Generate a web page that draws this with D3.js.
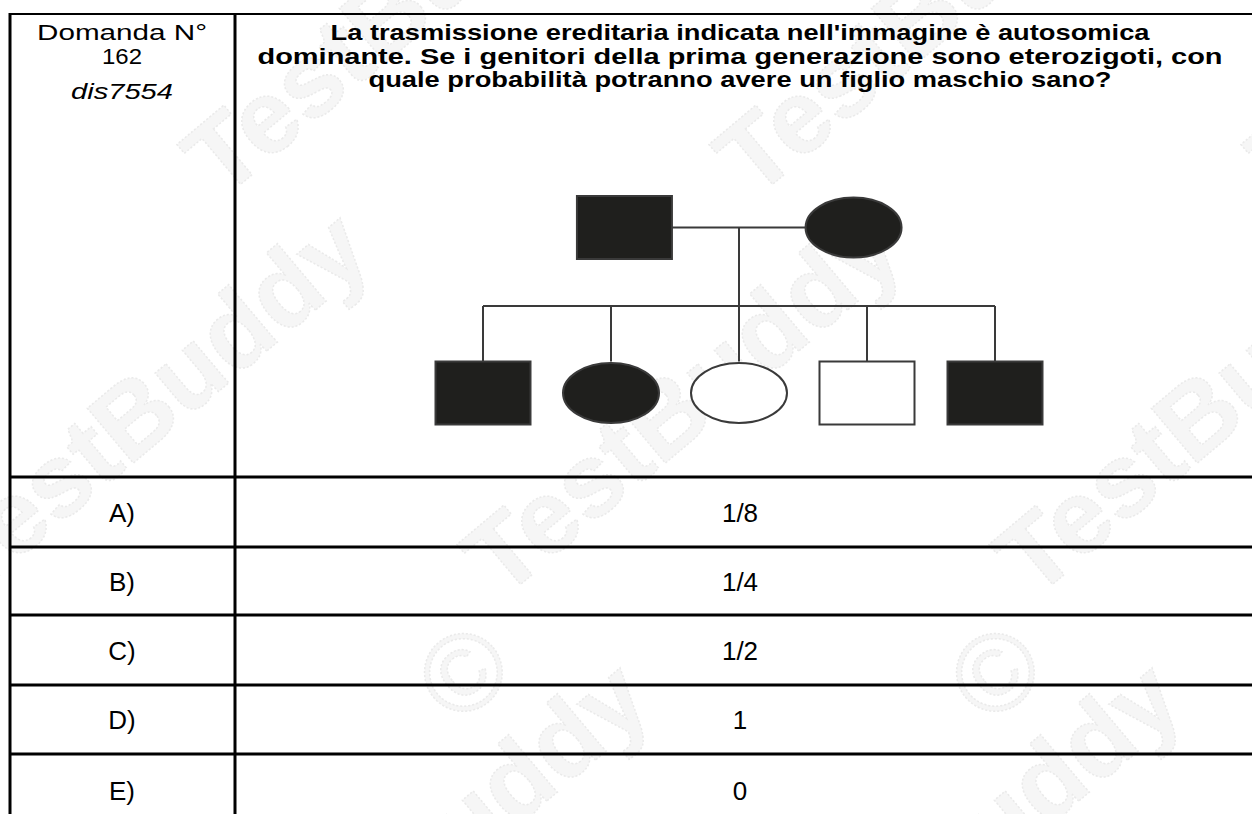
<!DOCTYPE html>
<html>
<head>
<meta charset="utf-8">
<script src="https://cdn.jsdelivr.net/npm/d3@7"></script>
<style>
  html, body { margin: 0; padding: 0; background: #fff; }
  svg { display: block; font-family: "Liberation Sans", Arial, sans-serif; }
</style>
</head>
<body>
<svg id="chart" width="1252" height="814"></svg>
<script>
(function() {
'use strict';

// question text
const headerLeft = ['Domanda N°', '162'];
const questionCode = 'dis7554';
const questionLines = [
  "La trasmissione ereditaria indicata nell'immagine è autosomica",
  'dominante. Se i genitori della prima generazione sono eterozigoti, con',
  'quale probabilità potranno avere un figlio maschio sano?'
];

// answers
const optionLetters = ['A)', 'B)', 'C)', 'D)', 'E)'];
const optionValues = ['1/8', '1/4', '1/2', '1', '0'];

// pedigree: slot index on the child line
const parentSlots = [1.105, 2.895];
const parentSex = ['M', 'F'];
const parentAffected = [true, true];
const childSlots = [0, 1, 2, 3, 4];
const childSex = ['M', 'F', 'F', 'M', 'M'];
const childAffected = [true, true, false, false, true];

// layout
const width = 1252;
const height = 814;
const colX = [10, 235, 1252];
const rowY = [14, 477, 547, 615, 685, 754, 826];
const leftWidths = [170, 40, 102];
const questionWidths = [819, 965, 743];
const ink = '#1f1f1d';
const lineInk = '#3a3a3a';

const svg = d3.select('#chart');

// watermark (faint, drawn first)
const wm = svg.append('g').attr('class', 'watermark');
const wmWords = [[-30, 600], [502, 600], [1034, 600], [250, 1050], [782, 1050], [-310, 200], [222, 200], [754, 200], [1286, 200]];
wm.selectAll('text.word')
  .data(wmWords)
  .enter()
  .append('text')
  .attr('class', 'word')
  .attr('transform', d => 'translate(' + d[0] + ',' + d[1] + ') rotate(-40)')
  .attr('font-size', 104)
  .attr('font-weight', 'bold')
  .attr('fill', '#f6f6f6')
  .attr('stroke', '#eaeaea')
  .attr('stroke-width', 1.5)
  .attr('stroke-dasharray', '2,2')
  .text('TestBuddy');

const wmCopy = [[463, 672], [995, 672]];
wm.selectAll('text.copy')
  .data(wmCopy)
  .enter()
  .append('text')
  .attr('class', 'copy')
  .attr('transform', d => 'translate(' + d[0] + ',' + d[1] + ') rotate(-40)')
  .attr('text-anchor', 'middle')
  .attr('dy', '0.35em')
  .attr('font-size', 110)
  .attr('fill', '#f6f6f6')
  .attr('stroke', '#eaeaea')
  .attr('stroke-width', 1.5)
  .attr('stroke-dasharray', '2,2')
  .text('©');

// table lines
const grid = svg.append('g').attr('class', 'grid');
grid.append('line')
  .attr('x1', colX[0]).attr('x2', width)
  .attr('y1', rowY[0]).attr('y2', rowY[0])
  .attr('stroke', '#000').attr('stroke-width', 2);

grid.selectAll('line.row')
  .data(rowY.slice(1, 6))
  .enter()
  .append('line')
  .attr('class', 'row')
  .attr('x1', colX[0] - 1).attr('x2', width)
  .attr('y1', d => d).attr('y2', d => d)
  .attr('stroke', '#000').attr('stroke-width', 3);

grid.selectAll('line.col')
  .data(colX.slice(0, 2))
  .enter()
  .append('line')
  .attr('class', 'col')
  .attr('x1', d => d).attr('x2', d => d)
  .attr('y1', rowY[0] - 1).attr('y2', height)
  .attr('stroke', '#000').attr('stroke-width', 3);

// header texts
const leftMid = 122;
const rightMid = 740;

svg.selectAll('text.hl')
  .data(headerLeft)
  .enter()
  .append('text')
  .attr('class', 'hl')
  .attr('x', leftMid)
  .attr('y', (d, i) => 40 + i * 23.5)
  .attr('text-anchor', 'middle')
  .attr('font-size', 22)
  .attr('textLength', (d, i) => leftWidths[i])
  .attr('lengthAdjust', 'spacingAndGlyphs')
  .attr('fill', '#000')
  .text(d => d);

svg.append('text')
  .attr('x', leftMid)
  .attr('y', 99)
  .attr('text-anchor', 'middle')
  .attr('font-size', 22)
  .attr('font-style', 'italic')
  .attr('textLength', leftWidths[2])
  .attr('lengthAdjust', 'spacingAndGlyphs')
  .attr('fill', '#000')
  .text(questionCode);

svg.selectAll('text.q')
  .data(questionLines)
  .enter()
  .append('text')
  .attr('class', 'q')
  .attr('x', rightMid)
  .attr('y', (d, i) => 40 + i * 23.5)
  .attr('text-anchor', 'middle')
  .attr('font-size', 21.5)
  .attr('font-weight', 'bold')
  .attr('textLength', (d, i) => questionWidths[i])
  .attr('lengthAdjust', 'spacingAndGlyphs')
  .attr('fill', '#000')
  .text(d => d);

// answer rows
const rowMid = i => (rowY[i + 1] + rowY[i + 2]) / 2;
const rows = svg.selectAll('g.opt')
  .data(optionLetters)
  .enter()
  .append('g')
  .attr('class', 'opt');

rows.append('text')
  .attr('x', leftMid)
  .attr('y', (d, i) => rowMid(i) + 9.5)
  .attr('text-anchor', 'middle')
  .attr('font-size', 26)
  .attr('fill', '#000')
  .text(d => d);

rows.append('text')
  .attr('x', rightMid)
  .attr('y', (d, i) => rowMid(i) + 9.5)
  .attr('text-anchor', 'middle')
  .attr('font-size', 26)
  .attr('fill', '#000')
  .text((d, i) => optionValues[i]);

// pedigree
const x = d3.scaleLinear().domain([0, 4]).range([483, 995]);
const y = d3.scaleOrdinal().domain(['I', 'II']).range([227.5, 393]);
const symW = 95;
const symH = 63;
const sibY = 306;

const ped = svg.append('g').attr('class', 'pedigree');

// marriage line
ped.append('line')
  .attr('x1', x(parentSlots[0])).attr('x2', x(parentSlots[1]))
  .attr('y1', y('I')).attr('y2', y('I'))
  .attr('stroke', lineInk).attr('stroke-width', 2);

// descent line
const midSlot = (parentSlots[0] + parentSlots[1]) / 2;
ped.append('line')
  .attr('x1', x(midSlot)).attr('x2', x(midSlot))
  .attr('y1', y('I')).attr('y2', sibY)
  .attr('stroke', lineInk).attr('stroke-width', 2);

// sibship line
ped.append('line')
  .attr('x1', x(d3.min(childSlots))).attr('x2', x(d3.max(childSlots)))
  .attr('y1', sibY).attr('y2', sibY)
  .attr('stroke', lineInk).attr('stroke-width', 2);

// child drops
ped.selectAll('line.drop')
  .data(childSlots)
  .enter()
  .append('line')
  .attr('class', 'drop')
  .attr('x1', d => x(d)).attr('x2', d => x(d))
  .attr('y1', sibY).attr('y2', y('II') - symH / 2)
  .attr('stroke', lineInk).attr('stroke-width', 2);

function drawMembers(slots, sex, affected, gen) {
  const data = slots.map((s, i) => ({slot: s, sex: sex[i], affected: affected[i]}));
  const g = ped.selectAll('g.gen' + gen)
    .data(data)
    .enter()
    .append('g')
    .attr('class', 'gen' + gen)
    .attr('transform', d => 'translate(' + x(d.slot) + ',' + y(gen) + ')');

  g.filter(d => d.sex === 'M')
    .append('rect')
    .attr('x', -symW / 2).attr('y', -symH / 2)
    .attr('width', symW).attr('height', symH)
    .attr('fill', d => d.affected ? ink : '#fff')
    .attr('stroke', lineInk).attr('stroke-width', 2);

  g.filter(d => d.sex === 'F')
    .append('ellipse')
    .attr('rx', 48).attr('ry', 30)
    .attr('fill', d => d.affected ? ink : '#fff')
    .attr('stroke', lineInk).attr('stroke-width', 2);
}

drawMembers(parentSlots, parentSex, parentAffected, 'I');
drawMembers(childSlots, childSex, childAffected, 'II');

})();
</script>
</body>
</html>
